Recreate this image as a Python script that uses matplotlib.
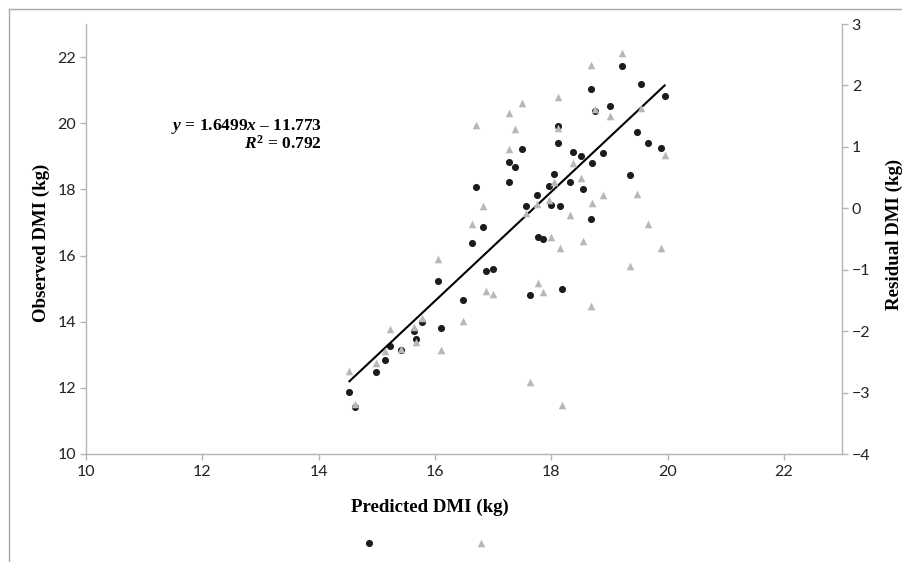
import numpy as np
import matplotlib
matplotlib.use("Agg")
import matplotlib.pyplot as plt
from matplotlib.lines import Line2D

# ── Data ───────────────────────────────────────────────────────────────
predicted = np.array([
    14.53, 14.62, 14.99, 15.15, 15.23, 15.42, 15.64, 15.67, 15.78, 16.06,
    16.11, 16.49, 16.64, 16.71, 16.83, 16.88, 17.00, 17.27, 17.27, 17.38,
    17.50, 17.57, 17.63, 17.75, 17.77, 17.86, 17.97, 18.00, 18.05, 18.11,
    18.11, 18.15, 18.19, 18.32, 18.38, 18.51, 18.55, 18.69, 18.69, 18.70,
    18.76, 18.89, 19.01, 19.21, 19.36, 19.48, 19.55, 19.67, 19.88, 19.95,
])
observed = np.array([
    11.88, 11.43, 12.47, 12.83, 13.26, 13.13, 13.71, 13.49, 13.99, 15.23,
    13.81, 14.65, 16.39, 18.07, 16.87, 15.54, 15.60, 18.82, 18.23, 18.67,
    19.22, 17.50, 14.81, 17.82, 16.56, 16.50, 18.11, 17.53, 18.47, 19.92,
    19.41, 17.51, 14.98, 18.21, 19.12, 19.01, 18.02, 17.10, 21.03, 18.79,
    20.38, 19.11, 20.52, 21.74, 18.42, 19.72, 21.18, 19.41, 19.24, 20.82,
])
# residual plotted on the secondary axis = observed - predicted
residual = observed - predicted

slope, intercept, r2 = 1.6499, -11.773, 0.792

x_ticks = [10, 12, 14, 16, 18, 20, 22]
y_ticks = [10, 12, 14, 16, 18, 20, 22]
r_ticks = [-4, -3, -2, -1, 0, 1, 2, 3]
r_labels = ["\u22124", "\u22123", "\u22122", "\u22121", "0", "1", "2", "3"]

# ── Style ──────────────────────────────────────────────────────────────
plt.rcParams["font.family"] = ["Lato", "DejaVu Sans"]
plt.rcParams["mathtext.fontset"] = "custom"
plt.rcParams["mathtext.rm"] = "Liberation Serif:bold"
plt.rcParams["mathtext.it"] = "Liberation Serif:italic:bold"
plt.rcParams["mathtext.bf"] = "Liberation Serif:bold"

SPINE = "#b4b4b4"
DOT = "#1c1c1c"
TRI = "#b8b8b8"
serif_bold = dict(family="Liberation Serif", weight="bold", size=13.6)

fig = plt.figure(figsize=(9.03, 5.62), dpi=100)
ax = fig.add_axes([86 / 903, 1 - 454 / 562, 756 / 903, 430 / 562])
ax2 = ax.twinx()

# ── Primary: observed vs predicted + trendline ─────────────────────────
h_dot = ax.scatter(predicted, observed, s=26, color=DOT, marker="o",
                   linewidths=0, zorder=3)
xl = np.array([predicted.min(), predicted.max()])
ax.plot(xl, slope * xl + intercept, color="black", lw=1.5, zorder=4)

# ── Secondary: residuals ───────────────────────────────────────────────
h_tri = ax2.scatter(predicted, residual, s=30, color=TRI, marker="^",
                    linewidths=0, zorder=3)

ax.set_xlim(10, 23)
ax.set_ylim(10, 23)
ax2.set_ylim(-4, 3)
ax.set_xticks(x_ticks)
ax.set_yticks(y_ticks)
ax2.set_yticks(r_ticks)
ax2.set_yticklabels(r_labels)

for a in (ax, ax2):
    a.spines["top"].set_visible(False)
    for side in ("left", "right", "bottom"):
        a.spines[side].set_color(SPINE)
        a.spines[side].set_linewidth(1.0)
    a.tick_params(colors=SPINE, labelcolor="#222222", labelsize=11.5,
                  length=4, width=1.0, direction="out")
ax.spines["right"].set_visible(False)
ax2.spines["left"].set_visible(False)
ax2.spines["bottom"].set_visible(False)
ax.tick_params(axis="y", pad=3)
ax.tick_params(axis="x", pad=4)
ax2.tick_params(axis="y", pad=3)

ax.set_xlabel("Predicted DMI (kg)", **serif_bold)
ax.xaxis.set_label_coords((430 - 86) / 756, -0.105)
ax.set_ylabel("Observed DMI (kg)", **serif_bold)
ax.yaxis.set_label_coords(-0.047, 0.49)
ax2.set_ylabel("Residual DMI (kg)", rotation=90, **serif_bold)
ax2.yaxis.set_label_coords(1.058, 0.51)

# ── Equation ───────────────────────────────────────────────────────────
eq = "$\\mathit{y}$ = %.4f$\\mathit{x}$ \u2013 %.3f" % (slope, -intercept)
ax.text(322 / 903, 1 - 126 / 562, eq,
        transform=fig.transFigure, ha="right", va="center",
        family="Liberation Serif", weight="bold", size=12.5)
ax.text(322 / 903, 1 - 144 / 562, "$\\mathit{R}^{\\mathrm{2}}$ = %.3f" % r2,
        transform=fig.transFigure, ha="right", va="center",
        family="Liberation Serif", weight="bold", size=12.5)

# ── Legend (markers only) ──────────────────────────────────────────────
fig.legend(handles=[h_dot, h_tri], labels=["", ""], ncol=2, loc="center",
           bbox_to_anchor=(425 / 903, 1 - 543 / 562), frameon=False,
           handlelength=1.0, handletextpad=0.0, columnspacing=7.0,
           fontsize=10)

# ── Outer frame ────────────────────────────────────────────────────────
fx, fy = 9 / 903, 1 - 9 / 562
fig.add_artist(Line2D([fx, fx], [0, fy], transform=fig.transFigure,
                      color="#a8a8a8", lw=1.0))
fig.add_artist(Line2D([fx, 1], [fy, fy], transform=fig.transFigure,
                      color="#a8a8a8", lw=1.0))

fig.savefig("out.png", dpi=100)
